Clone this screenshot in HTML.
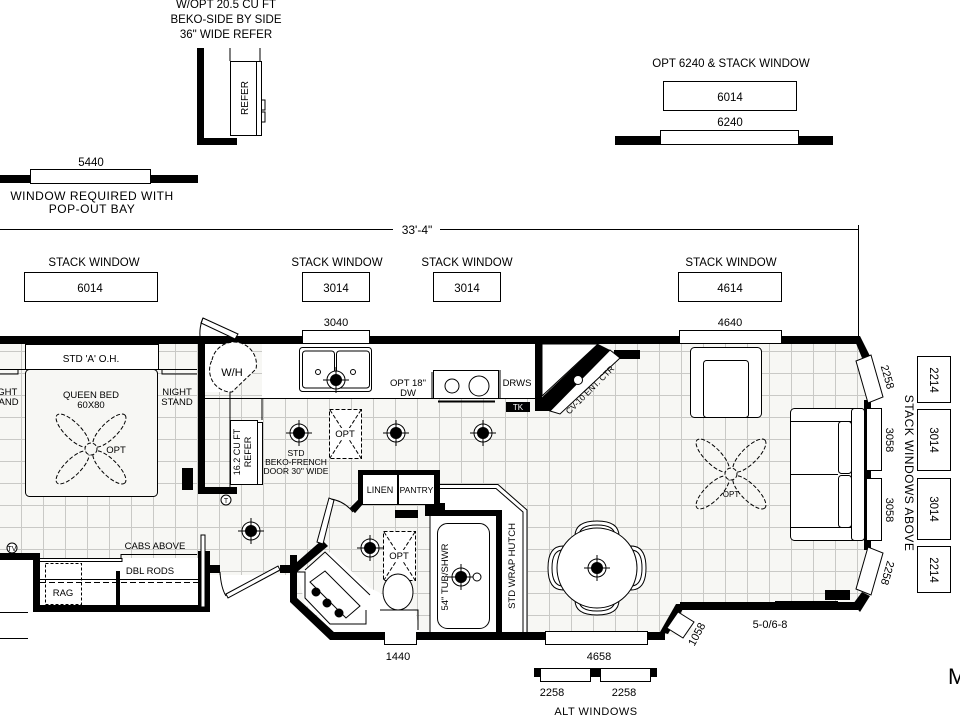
<!DOCTYPE html>
<html><head><meta charset="utf-8"><style>
html,body{margin:0;padding:0;background:#fff;}
svg{display:block;}
text{font-family:"Liberation Sans Narrow","Liberation Sans",sans-serif;fill:#000;}
</style></head><body>
<svg width="960" height="720" viewBox="0 0 960 720" xmlns="http://www.w3.org/2000/svg">
<defs>
<pattern id="g" x="-1" y="-1" width="22" height="22" patternUnits="userSpaceOnUse">
<rect width="22" height="22" fill="#f7f7f4"/>
<path d="M0 0.5H22M0.5 0V22" stroke="#c9c9c6" stroke-width="1"/>
</pattern>
<g id="lt"><circle r="9" fill="#fff" stroke="#000" stroke-width="1"/><circle r="6" fill="#000"/><path d="M-13 0H13M0 -13V13" stroke="#000" stroke-width="1"/></g>
<g id="fan" fill="none" stroke="#000" stroke-width="1" stroke-dasharray="4,2">
<ellipse rx="22" ry="8" transform="rotate(45) translate(-26,0)"/>
<ellipse rx="22" ry="8" transform="rotate(45) translate(26,0)"/>
<ellipse rx="22" ry="8" transform="rotate(-45) translate(-26,0)"/>
<ellipse rx="22" ry="8" transform="rotate(-45) translate(26,0)"/>
<circle r="6" fill="#f7f7f4"/>
</g>
</defs>

<!-- ===== TOP AREA ===== -->
<g font-size="11.5" text-anchor="middle">
<text x="226" y="8">W/OPT 20.5 CU FT</text>
<text x="226" y="23">BEKO-SIDE BY SIDE</text>
<text x="226" y="38">36" WIDE REFER</text>
</g>
<rect x="197" y="48" width="7" height="97" fill="#000"/>
<rect x="197" y="138" width="40" height="7" fill="#000"/>
<path d="M230 48V61M260 48V61" stroke="#000"/>
<rect x="230.5" y="61.5" width="26" height="74" fill="#fff" stroke="#000"/>
<rect x="256.5" y="61.5" width="5" height="74" fill="#fff" stroke="#000"/>
<path d="M261 100h4v10h-4M261 112h4v10h-4" fill="none" stroke="#000"/>
<text x="0" y="0" font-size="10" text-anchor="middle" transform="translate(248,98) rotate(-90)">REFER</text>

<rect x="0" y="175" width="198" height="8" fill="#000"/>
<rect x="30.5" y="169.5" width="120" height="14" fill="#fff" stroke="#000"/>
<text x="91" y="166" font-size="11.5" text-anchor="middle">5440</text>
<text x="92" y="200" font-size="12" text-anchor="middle" letter-spacing="0.5">WINDOW REQUIRED WITH</text>
<text x="92" y="213" font-size="12" text-anchor="middle" letter-spacing="0.5">POP-OUT BAY</text>

<path d="M0 229.5H393M440 229.5H858" stroke="#000"/>
<path d="M858.5 225V336" stroke="#000"/>
<text x="417" y="234" font-size="12" text-anchor="middle">33'-4"</text>

<g font-size="11.5" text-anchor="middle">
<text x="94" y="266">STACK WINDOW</text>
<rect x="24.5" y="272.5" width="133" height="29" fill="#fff" stroke="#000"/>
<text x="90" y="292">6014</text>
<text x="337" y="266">STACK WINDOW</text>
<rect x="302.5" y="272.5" width="67" height="29" fill="#fff" stroke="#000"/>
<text x="336" y="292">3014</text>
<text x="467" y="266">STACK WINDOW</text>
<rect x="433.5" y="272.5" width="67" height="29" fill="#fff" stroke="#000"/>
<text x="467" y="292">3014</text>
<text x="731" y="266">STACK WINDOW</text>
<rect x="678.5" y="272.5" width="103" height="29" fill="#fff" stroke="#000"/>
<text x="730" y="292">4614</text>

<text x="731" y="67">OPT 6240 &amp; STACK WINDOW</text>
<rect x="663.5" y="81.5" width="133" height="29" fill="#fff" stroke="#000"/>
<text x="730" y="101">6014</text>
<text x="730" y="126">6240</text>
</g>
<rect x="615" y="136" width="218" height="9" fill="#000"/>
<rect x="660.5" y="130.5" width="138" height="14" fill="#fff" stroke="#000"/>

<!-- ===== FLOOR ===== -->
<rect x="0" y="343" width="868" height="292" fill="url(#g)"/>
<rect x="0" y="560" width="290" height="160" fill="#fff"/>
<rect x="210" y="555" width="80" height="20" fill="url(#g)"/>
<polygon points="290,600 330,640 700,640 680,608 868,608 868,640 290,660" fill="#fff"/>
<rect x="290" y="638" width="580" height="30" fill="#fff"/>
<polygon points="855,336 868,355 868,600 858,610 900,610 900,336" fill="#fff"/>
<rect x="40" y="558" width="158" height="47" fill="#fff"/>

<!-- kitchen counter base -->
<rect x="205" y="344" width="25" height="48" fill="#fff"/>
<rect x="262" y="344" width="273" height="54" fill="#fff"/>
<path d="M205 398.5H262V420M262 398.5H535M432 398V372" fill="none" stroke="#000"/>

<!-- outer walls -->
<g fill="#000">
<rect x="0" y="336" width="858" height="8"/>
<polygon points="853,336 860,336 870,356 862,358"/>
<rect x="864" y="400" width="7" height="150"/>
<polygon points="862,592 870,596 860,612 853,604"/>
<rect x="680" y="602" width="178" height="8"/>
<polygon points="676,604 686,604 668,634 660,632"/>
<rect x="330" y="632" width="335" height="8"/>
<polygon points="290,555 297,555 297,598 334,632 330,640 290,602"/>
<polygon points="297,562 322,540 328,546 297,572"/>
<rect x="280" y="565" width="15" height="8"/>
<rect x="210" y="565" width="10" height="8"/>
<rect x="0" y="553" width="40" height="7"/>
<rect x="33" y="553" width="7" height="59"/>
<rect x="33" y="605" width="177" height="7"/>
<rect x="198" y="551" width="12" height="61"/>
<rect x="116" y="571" width="4" height="34"/>
<rect x="198" y="340" width="7" height="153"/>
<rect x="198" y="487" width="39" height="7"/>
<rect x="182" y="468" width="11" height="22"/>
<rect x="614" y="350" width="26" height="9"/>
<rect x="825" y="590" width="25" height="10"/>
<polygon points="358,470 440,470 440,503 445,503 445,510 502,510 502,632 496,632 496,516 425,516 425,505 362,505 355,513 350,508 358,500"/>
<rect x="395" y="510" width="23" height="8"/>
</g>
<rect x="362.5" y="474.5" width="35" height="30" fill="#fff" stroke="#000"/>
<rect x="398.5" y="474.5" width="36" height="30" fill="#fff" stroke="#000"/>
<text x="380" y="493" font-size="9" text-anchor="middle">LINEN</text>
<text x="416.5" y="493" font-size="8.5" text-anchor="middle">PANTRY</text>

<!-- windows in walls -->
<g fill="#fff" stroke="#000">
<rect x="302.5" y="330.5" width="67" height="13"/>
<rect x="679.5" y="330.5" width="102" height="13"/>
<rect x="384.5" y="631.5" width="32" height="13"/>
<rect x="545.5" y="631.5" width="102" height="13"/>
<rect x="866.5" y="408.5" width="15" height="62"/>
<rect x="866.5" y="478.5" width="15" height="62"/>
<polygon points="856,361 871,355 883,397 868,403"/>
<polygon points="856,589 871,595 883,553 868,547"/>
<polygon points="667,628 678,612 694,622 683,638"/>
</g>
<path d="M713 604.5H838M713 607.5H780M775 601.5H838" stroke="#000" fill="none"/>
<path d="M203 318L238 334L235 339L201 323Z" fill="#fff" stroke="#000"/>
<path d="M203 318Q198 330 201 343" fill="none" stroke="#000"/>

<g font-size="11" text-anchor="middle">
<text x="336" y="326">3040</text>
<text x="730" y="326">4640</text>
<text x="398" y="660">1440</text>
<text x="599" y="660">4658</text>
<text x="770" y="628">5-0/6-8</text>
<text transform="translate(700,636) rotate(-62)">1058</text>
<text transform="translate(884,378) rotate(74)">2258</text>
<text transform="translate(884,572) rotate(106)">2258</text>
<text transform="translate(886,440) rotate(90)">3058</text>
<text transform="translate(886,510) rotate(90)">3058</text>
</g>

<g fill="#fff" stroke="#000">
<rect x="917.5" y="356.5" width="33" height="46"/>
<rect x="917.5" y="409.5" width="33" height="61"/>
<rect x="917.5" y="478.5" width="33" height="61"/>
<rect x="917.5" y="546.5" width="33" height="46"/>
</g>
<g font-size="11.5" text-anchor="middle">
<text transform="translate(930,380) rotate(90)">2214</text>
<text transform="translate(930,440) rotate(90)">3014</text>
<text transform="translate(930,509) rotate(90)">3014</text>
<text transform="translate(930,570) rotate(90)">2214</text>
<text transform="translate(905,473) rotate(90)" font-size="12" letter-spacing="0.5">STACK WINDOWS ABOVE</text>
</g>
<text x="948" y="684" font-size="22">M</text>

<rect x="534" y="668" width="123" height="9" fill="#000"/>
<rect x="540.5" y="668.5" width="50" height="13" fill="#fff" stroke="#000"/>
<rect x="600.5" y="668.5" width="50" height="13" fill="#fff" stroke="#000"/>
<g font-size="11" text-anchor="middle">
<text x="552" y="696">2258</text><text x="624" y="696">2258</text>
<text x="596" y="715" letter-spacing="0.5">ALT WINDOWS</text>
</g>

<!-- bedroom -->
<rect x="25.5" y="344.5" width="133" height="25" fill="#fff" stroke="#000"/>
<path d="M0 369.5H25M158 369.5H197" stroke="#000"/>
<text x="91" y="362" font-size="10" text-anchor="middle">STD 'A' O.H.</text>
<rect x="25.5" y="369.5" width="132" height="127" rx="4" fill="#f7f7f4" stroke="#000"/>
<g font-size="9.5" text-anchor="middle">
<text x="91" y="398">QUEEN BED</text><text x="91" y="408">60X80</text>
<text x="116" y="453">OPT</text>
<text x="177" y="395">NIGHT</text><text x="177" y="405">STAND</text>
<text x="6" y="395">IGHT</text><text x="6" y="405">TAND</text>
</g>
<use href="#fan" x="91" y="449"/>
<path d="M162 370V374H197M0 374H18V370" fill="none" stroke="#000"/>

<!-- W/H & refer -->
<path d="M230 392V490" stroke="#000"/>
<path d="M212 360A20 20 0 0 1 256 369L232 392L230 392A22 22 0 0 1 212 360Z" fill="#fff" stroke="#000" stroke-dasharray="4,2"/>
<text x="232" y="376" font-size="11" text-anchor="middle">W/H</text>
<rect x="230.5" y="420.5" width="27" height="64" fill="#fff" stroke="#000"/>
<rect x="257.5" y="422.5" width="5" height="62" fill="#fff" stroke="#000"/>
<text transform="translate(240,452) rotate(-90)" font-size="9" text-anchor="middle">16.2 CU FT</text>
<text transform="translate(251,452) rotate(-90)" font-size="9" text-anchor="middle">REFER</text>
<g font-size="8.5" text-anchor="middle">
<text x="296" y="456">STD</text><text x="296" y="465">BEKO-FRENCH</text><text x="296" y="474">DOOR 30" WIDE</text>
</g>
<circle cx="226" cy="500" r="5" fill="#fff" stroke="#000"/><text x="226" y="503" font-size="7" text-anchor="middle">T</text>

<!-- kitchen counter items -->
<rect x="299.5" y="347.5" width="72" height="44" rx="3" fill="#fff" stroke="#000"/>
<rect x="302.5" y="351" width="32" height="37" rx="3" fill="none" stroke="#000"/>
<rect x="336.5" y="351" width="33" height="37" rx="3" fill="none" stroke="#000"/>
<circle cx="318" cy="372" r="2.5" fill="#fff" stroke="#000"/><circle cx="353" cy="372" r="2.5" fill="#fff" stroke="#000"/>
<use href="#lt" x="336" y="380"/>
<rect x="433.5" y="370.5" width="65" height="28" fill="#fff" stroke="#000"/>
<circle cx="452" cy="386" r="7" fill="#fff" stroke="#000"/><circle cx="479" cy="386" r="10" fill="#fff" stroke="#000"/>
<path d="M438 401.5H495" stroke="#000" stroke-width="2"/>
<path d="M500 370V398" stroke="#000"/>
<g font-size="9.5" text-anchor="middle">
<text x="408" y="386">OPT 18"</text><text x="408" y="396">DW</text>
<text x="517" y="386">DRWS</text>
</g>
<rect x="506" y="402" width="24" height="10" fill="#000"/>
<text x="518" y="410" font-size="8" text-anchor="middle" style="fill:#fff">TK</text>
<!-- ent ctr -->
<polygon points="542,344 598,344 542,396" fill="#fff" stroke="#000"/>
<rect x="535" y="343" width="7" height="68" fill="#000"/>
<polygon points="535,404 598,344 610,350 550,411 535,411" fill="#000"/>
<polygon points="550,411 610,350 620,358 560,414" fill="#fff" stroke="#000"/>
<circle cx="578" cy="380" r="4.5" fill="#fff" stroke="#000"/>
<text transform="translate(592,392) rotate(-45)" font-size="8.5" text-anchor="middle">CV-10 ENT. CTR</text>

<!-- lights & opt -->
<use href="#lt" x="299" y="433"/><use href="#lt" x="396" y="433"/><use href="#lt" x="483" y="433"/>
<use href="#lt" x="251" y="531"/><use href="#lt" x="370" y="548"/>
<g fill="#fff" stroke="#000" stroke-dasharray="4,2">
<rect x="329.5" y="409.5" width="32" height="49"/>
<path d="M330 410L361 458M361 410L330 458" fill="none"/>
<rect x="383.5" y="531.5" width="32" height="49"/>
<path d="M384 532L415 580M415 532L384 580" fill="none"/>
</g>
<rect x="335" y="428" width="20" height="12" fill="#fff"/><text x="345" y="437" font-size="9.5" text-anchor="middle">OPT</text>
<rect x="389" y="550" width="20" height="12" fill="#fff"/><text x="399" y="559" font-size="9.5" text-anchor="middle">OPT</text>

<!-- bath -->
<polygon points="297,572 305,570 330,552 370,588 415,610 420,632 334,632 305,604" fill="#fff"/>
<path d="M297 572H305V598L330 624H366V610" fill="none" stroke="#000"/>
<path d="M305 570L325 552L370 595" fill="none" stroke="#000"/>
<path d="M310 582L325 571L360 606L346 618Z" fill="#fff" stroke="#000"/>
<g fill="#000" stroke="#000"><circle cx="316" cy="592" r="4"/><circle cx="327" cy="603" r="4"/><circle cx="339" cy="613" r="4"/></g>
<path d="M380 610H418V630" fill="none" stroke="#000"/>
<ellipse cx="398" cy="592" rx="15" ry="18" fill="#fff" stroke="#000"/>
<rect x="430" y="516" width="66" height="116" fill="#fff"/>
<path d="M430 516V632" stroke="#000"/>
<rect x="437.5" y="523.5" width="52" height="105" rx="10" fill="#fff" stroke="#000"/>
<use href="#lt" x="461" y="577"/>
<circle cx="477" cy="577" r="4" fill="#fff" stroke="#000"/>
<text transform="translate(448,577) rotate(-90)" font-size="9.5" text-anchor="middle">54" TUB/SHWR</text>
<polygon points="440,484 498,484 527,510 527,632 502,632 502,510 440,510" fill="#fff"/>
<path d="M440 484.5H498L527 510V632M440 488.5H496L523 512V632" fill="none" stroke="#000"/>
<polygon points="445,503 445,510 502,510 502,632 496,632 496,516 440,516 440,503" fill="#000"/>
<text transform="translate(515,566) rotate(-90)" font-size="9.5" text-anchor="middle">STD WRAP HUTCH</text>
<path d="M317 542L329 498L334 500L323 544Z" fill="#fff" stroke="#000"/>
<path d="M331 499Q344 501 353 512" fill="none" stroke="#000"/>
<polygon points="350,508 358,500 362,505 355,513" fill="#000"/>

<!-- closet details -->
<path d="M40 558.5H121V554.5H197M40 561.5H122V558" fill="none" stroke="#000"/>
<path d="M40 582.5H198" stroke="#000" stroke-dasharray="6,3"/>
<path d="M40 579.5H198" stroke="#000"/>
<rect x="45.5" y="563.5" width="36" height="41" fill="none" stroke="#000" stroke-dasharray="3,2"/>
<rect x="116" y="571" width="4" height="34" fill="#000"/>
<rect x="201" y="535" width="4" height="72" fill="#fff" stroke="#000"/>
<g font-size="9.5" text-anchor="middle">
<text x="155" y="549">CABS ABOVE</text>
<text x="150" y="574">DBL RODS</text>
<text x="63" y="596">RAG</text>
</g>
<circle cx="12" cy="548" r="5" fill="#fff" stroke="#000"/><text x="12" y="551" font-size="7" text-anchor="middle">TV</text>
<path d="M0 612.5H28M0 638.5H28" stroke="#000"/>
<path d="M226 594L278 566L280 570L228 598Z" fill="#fff" stroke="#000"/>
<path d="M220 572Q221 588 226 596" fill="none" stroke="#000"/>

<!-- dining -->
<g fill="#fff" stroke="#000">
<path d="M575 536Q575 521 597 521Q619 521 619 536Z"/><path d="M579 536Q579 525 597 525Q615 525 615 536Z"/>
<path d="M575 600Q575 615 597 615Q619 615 619 600Z"/><path d="M579 600Q579 611 597 611Q615 611 615 600Z"/>
<path d="M563 546Q548 546 548 568Q548 590 563 590Z"/><path d="M563 550Q552 550 552 568Q552 586 563 586Z"/>
<path d="M631 546Q646 546 646 568Q646 590 631 590Z"/><path d="M631 550Q642 550 642 568Q642 586 631 586Z"/>
<circle cx="597" cy="568" r="40"/>
</g>
<use href="#lt" x="597" y="568"/>

<!-- living -->
<g fill="#fff" stroke="#000">
<rect x="690.5" y="347.5" width="71" height="70" rx="4"/>
<rect x="703.5" y="360.5" width="45" height="57" rx="3"/>
<rect x="790.5" y="408.5" width="74" height="132" rx="4"/>
<rect x="851.5" y="408.5" width="13" height="132" rx="3"/>
<rect x="838.5" y="421.5" width="13" height="52" rx="3"/>
<rect x="838.5" y="475.5" width="13" height="52" rx="3"/>
<path d="M790 421.5H851M790 527.5H851M790 474.5H838"/>
</g>
<use href="#fan" x="731" y="474"/>
<text x="731" y="497" font-size="8" text-anchor="middle">OPT</text>
</svg>
</body></html>
